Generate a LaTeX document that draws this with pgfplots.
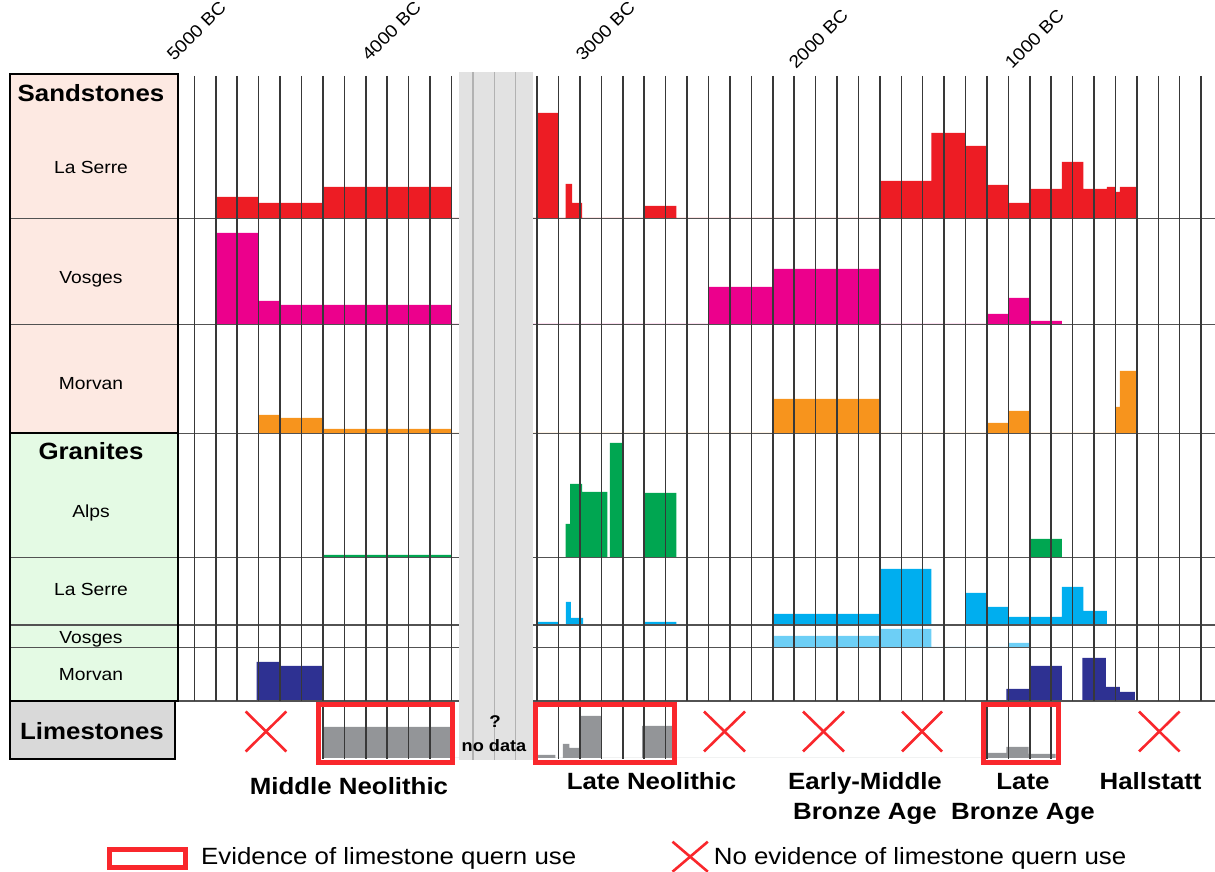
\documentclass[border=0pt]{standalone}
\usepackage{pgfplots}
\pgfplotsset{compat=1.18}
\usepackage{fontspec}
\setmainfont{Liberation Sans}[FakeStretch=1.1]

\definecolor{cred}{HTML}{ED1C24}
\definecolor{cmag}{HTML}{EC008C}
\definecolor{corange}{HTML}{F7941D}
\definecolor{cgreen}{HTML}{00A651}
\definecolor{cblue}{HTML}{00AEEF}
\definecolor{clblue}{HTML}{6DCFF6}
\definecolor{cnavy}{HTML}{2E3192}
\definecolor{cstone}{HTML}{939598}
\definecolor{sandbg}{HTML}{FDE9E2}
\definecolor{granbg}{HTML}{E4FAE4}
\definecolor{limebg}{HTML}{D9D9D9}
\definecolor{nodata}{HTML}{E2E2E2}
\definecolor{evred}{HTML}{F9272C}

\newcommand{\sz}[1]{\fontsize{#1pt}{#1pt}\selectfont}

% each strip: x = year (negative = BC), y = bar height above the strip's baseline (1 unit = 1pt)
\pgfplotsset{
  strip/.style={
    scale only axis, width=1215pt, height=#1pt,
    xmin=-5707.6, xmax=-35.4, ymin=0, ymax=#1,
    axis lines=none, xtick=\empty, ytick=\empty,
    anchor=south west, clip=false,
  },
  stone/.style={ybar interval, fill=#1, draw=none},
}

\begin{document}
\begin{tikzpicture}
\path[use as bounding box] (0,0) rectangle (1215pt,872pt);

% Sandstones - La Serre
\begin{axis}[strip=144, at={(0pt,654pt)}]
\addplot[stone=cred] coordinates {(-4700,21) (-4500,15) (-4200,31) (-3600,0) (-3200,105) (-3100,0) (-3067,34) (-3037,15) (-2990,0) (-2700,12) (-2550,0) (-1600,37) (-1360,85) (-1200,72) (-1100,33) (-1000,15) (-900,29) (-750,56) (-650,29) (-540,31) (-500,26) (-480,31) (-400,0)};
\end{axis}
% Sandstones - Vosges
\begin{axis}[strip=106, at={(0pt,548pt)}]
\addplot[stone=cmag] coordinates {(-4700,91) (-4500,23) (-4400,19) (-3600,0) (-2400,37) (-2100,55) (-1600,0) (-1100,10) (-1000,26) (-900,3) (-750,0)};
\end{axis}
% Sandstones - Morvan
\begin{axis}[strip=109, at={(0pt,439pt)}]
\addplot[stone=corange] coordinates {(-4500,18) (-4400,15) (-4200,4) (-3600,0) (-2100,34) (-1600,0) (-1100,10) (-1000,22) (-900,0) (-500,26) (-480,62) (-400,0)};
\end{axis}
% Granites - Alps
\begin{axis}[strip=125, at={(0pt,314pt)}]
\addplot[stone=cgreen] coordinates {(-4200,3) (-3600,0) (-3067,34) (-3046,74) (-2990,66) (-2872,0) (-2860,115) (-2800,0) (-2700,65) (-2550,0) (-900,19) (-750,0)};
\end{axis}
% Granites - La Serre
\begin{axis}[strip=67, at={(0pt,247pt)}]
\addplot[stone=cblue] coordinates {(-3200,3) (-3100,0) (-3066,23) (-3042,7) (-2985,0) (-2700,3) (-2550,0) (-2100,11) (-1600,56) (-1360,0) (-1200,32) (-1100,18) (-1000,8) (-750,38) (-650,14) (-540,0)};
\end{axis}
% Granites - Vosges
\begin{axis}[strip=22, at={(0pt,225pt)}]
\addplot[stone=clblue] coordinates {(-2100,11) (-1600,18) (-1360,0) (-1000,4) (-900,0)};
\end{axis}
% Granites - Morvan
\begin{axis}[strip=54, at={(0pt,171pt)}]
\addplot[stone=cnavy] coordinates {(-4510,39) (-4400,35) (-4200,0) (-1010,12) (-900,35) (-750,0) (-655,43) (-545,14) (-480,9) (-410,0)};
\end{axis}
% Limestones
\begin{axis}[strip=57, at={(0pt,114pt)}]
\addplot[stone=cstone] coordinates {(-4200,31) (-3600,0) (-3200,3) (-3115,0) (-3080,14) (-3050,10) (-3000,42) (-2900,0) (-2710,32) (-2560,0) (-1100,5) (-1010,11) (-905,4) (-780,0)};
\end{axis}

\begin{scope}[x=1pt,y=-1pt,shift={(0pt,872pt)}]
  % left panels
  \fill[sandbg] (10,74) rectangle (178,433.3);
  \fill[granbg] (10,433.3) rectangle (178,701);
  % row separators
  \foreach \yy in {218.3,324.3,433.3,557.7,625,647.3,701}
    \draw[black!68, line width=1.4pt] (10,\yy) -- (1215,\yy);
  % vertical grid
  \foreach \k in {0,...,47} {
    \pgfmathsetmacro\xx{194.4+21.42*\k}
    \draw[black!78, line width=1.5pt] (\xx,76) -- (\xx,701);
  }
  \foreach \k in {6,...,11,17,18,...,22,37,38,...,40} {
    \pgfmathsetmacro\xx{194.4+21.42*\k}
    \draw[black!78, line width=1.5pt] (\xx,705) -- (\xx,759);
  }
  % no data band
  \fill[nodata] (458.5,72) rectangle (532.7,760);
  \foreach \k in {13,14,15} {
    \pgfmathsetmacro\xx{194.4+21.42*\k}
    \draw[black!30, line width=1.3pt] (\xx,72) -- (\xx,760);
  }
  \node[font=\bfseries\sz{17}, align=center, inner sep=0] at (495,722) {?};
  \node[font=\bfseries\sz{16.5}, anchor=base, inner sep=0] at (494,751.5) {no data};
  % panel borders
  \draw[black, line width=1.6pt] (10,74) rectangle (178,433.3);
  \draw[black, line width=1.6pt] (10,433.3) rectangle (178,701);
  \draw[black, line width=1.6pt, fill=limebg] (10,701.5) rectangle (175,759);
  % panel labels
  \begin{scope}[every node/.style={anchor=base, inner sep=0}]
    \node[font=\bfseries\sz{23.5}] at (91,101.7) {Sandstones};
    \node[font=\sz{17.5}] at (91,173.3) {La Serre};
    \node[font=\sz{17.5}] at (91,283.5) {Vosges};
    \node[font=\sz{17.5}] at (91,390) {Morvan};
    \node[font=\bfseries\sz{23.5}] at (91,459.3) {Granites};
    \node[font=\sz{17.5}] at (91,517.6) {Alps};
    \node[font=\sz{17.5}] at (91,596) {La Serre};
    \node[font=\sz{17.5}] at (91,643.6) {Vosges};
    \node[font=\sz{17.5}] at (91,680.7) {Morvan};
    \node[font=\bfseries\sz{23.5}] at (92,740) {Limestones};
    % periods
    \node[font=\bfseries\sz{23.5}] at (349,795) {Middle Neolithic};
    \node[font=\bfseries\sz{23.5}] at (651.5,790) {Late Neolithic};
    \node[font=\bfseries\sz{23.5}] at (865,790) {Early-Middle};
    \node[font=\bfseries\sz{23.5}] at (865,820) {Bronze Age};
    \node[font=\bfseries\sz{23.5}] at (1023,790) {Late};
    \node[font=\bfseries\sz{23.5}] at (1023,820) {Bronze Age};
    \node[font=\bfseries\sz{23.5}] at (1150.6,790) {Hallstatt};
  \end{scope}
  % year labels
  \begin{scope}[every node/.style={anchor=base west, rotate=45, inner sep=0, font=\sz{17.5}}]
    \node at (174,62) {5000 BC};
    \node at (369,62) {4000 BC};
    \node at (583,62) {3000 BC};
    \node at (796,70) {2000 BC};
    \node at (1012,70) {1000 BC};
  \end{scope}
  % limestone evidence boxes
  \draw[evred, line width=5pt] (318.2,704.2) rectangle (452.1,762.5);
  \draw[evred, line width=5pt] (535.8,704.2) rectangle (674.2,762.5);
  \draw[evred, line width=5pt] (983.2,704.2) rectangle (1058.2,762.5);
  % no evidence crosses
  \foreach \xa/\xb in {245.7/286.3, 704/745, 803/844, 902/942, 1139/1179.6} {
    \draw[evred, line width=2.6pt] (\xa,711.5) -- (\xb,751.5);
    \draw[evred, line width=2.6pt] (\xa,751.5) -- (\xb,711.5);
  }
  % legend
  \draw[evred, line width=5pt] (109.5,849.2) rectangle (185,867.5);
  \node[font=\sz{23.5}, anchor=base west, inner sep=0] at (201,865) {Evidence of limestone quern use};
  \draw[evred, line width=2.6pt] (672.5,841.7) -- (707.8,871.7);
  \draw[evred, line width=2.6pt] (672.5,871.7) -- (707.8,841.7);
  \node[font=\sz{23.5}, anchor=base west, inner sep=0] at (713.7,865) {No evidence of limestone quern use};
\end{scope}
\end{tikzpicture}
\end{document}
